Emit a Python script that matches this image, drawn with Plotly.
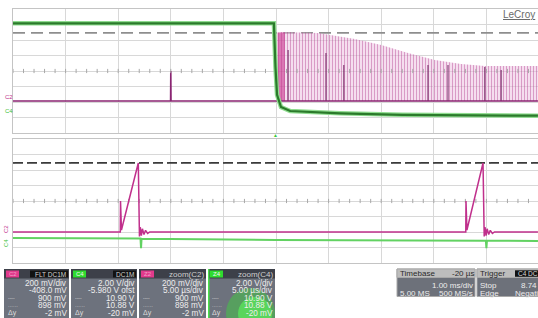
import plotly.graph_objects as go

W, H = 538, 318

# ---------------- data ----------------
# Top panel: 1 ms/div, time in ms
c2_top_t = [-5.0, -2.004, -2.0, -1.996, 4.98]          # C2 baseline with single glitch
c2_top_mv = [20, 20, 408, 20, 20]
burst_t = [0.03, 0.095, 0.80, 1.12, 1.50, 2.00, 2.51, 3.02, 3.52, 3.97, 4.98]   # envelope of the pulse burst
burst_mv = [900, 911, 898, 860, 821, 743, 640, 550, 498, 473, 473]
burst_base_mv = [20, 20]
dense_t = [0.03, 0.17]
dense_mv = [905, 905]
tall_t = [0.23, 0.95, 1.29, 2.89, 3.27, 3.97, 4.28]     # darker individual pulses
tall_mv = [679, 640, 485, 485, 485, 460, 421]
c4_top_t = [-5.0, -0.04, -0.01, 0.02, 0.095, 0.27, 1.22, 2.4, 4.98]
c4_top_v = [12.13, 12.13, 6.5, 2.9, 1.33, 0.82, 0.52, 0.32, 0.21]

# Bottom panel: zoom 5 us/div, time in us
c2_bot_t = [-25.0, -14.80, -14.78, -14.69, -13.09, -13.04, -12.98, -12.90, -12.80, -12.70,
            -12.55, -12.40, -12.20, -12.00,
            18.04, 18.06, 18.15, 19.68, 19.73, 19.79, 19.87, 19.97, 20.07, 20.22, 20.37, 20.57, 20.77, 24.9]
c2_bot_mv = [8, 8, 408, 34, 898, 8, -50, 70, -40, 50, -25, 30, -10, 8,
             8, 408, 34, 898, 8, -50, 70, -40, 50, -25, 30, -10, 8, 8]
c4_bot_t = [-25.0, -13.0, -12.88, -12.83, -12.78, 0.0, 19.95, 20.0, 20.05, 24.9]
c4_bot_v = [1.22, 1.15, 1.15, -0.1, 1.12, 0.95, 0.86, -0.1, 0.86, 0.82]

cursor_mv = [900, 898]
c2_scale, c2_offset = 200, -408.0      # mV/div, mV
c4_scale, c4_offset = 2.0, -5.98       # V/div, V

top_range_ms = [-5.0, 4.981]
bot_range_us = [-25.0, 24.905]

# info panel texts
ch_boxes = [
    dict(x0=4, x1=69, badge="C2", bcol="#e23a8c", tag="FLT DC1M", tagbox=True,
         rows=["200 mV/div", "-408.0 mV", "900 mV", "898 mV", "-2 mV"]),
    dict(x0=71, x1=137, badge="C4", bcol="#2fdc2f", tag="DC1M", tagbox=True,
         rows=["2.00 V/div", "-5.980 V ofst", "10.90 V", "10.88 V", "-20 mV"]),
    dict(x0=139, x1=206, badge="Z2", bcol="#e23a8c", tag="zoom(C2)", tagbox=False,
         rows=["200 mV/div", "5.00 µs/div", "900 mV", "898 mV", "-2 mV"]),
    dict(x0=208, x1=275, badge="Z4", bcol="#2fdc2f", tag="zoom(C4)", tagbox=False,
         rows=["2.00 V/div", "5.00 µs/div", "10.90 V", "10.88 V", "-20 mV"]),
]

# ---------------- figure ----------------
fig = go.Figure()
FONT = "Liberation Sans"
GRID = "#d8d8d8"


def c2_range():
    c = -c2_offset
    return [c - 4 * c2_scale, c + 4 * c2_scale]


def c4_range():
    c = -c4_offset
    return [c - 4 * c4_scale, c + 4 * c4_scale]


def spikes(ts, vs, base):
    xs, ys = [], []
    for t, v in zip(ts, vs):
        xs += [t, t, None]
        ys += [base, v, None]
    return xs, ys


# ---- top panel ----
fig.add_trace(go.Scatter(x=top_range_ms, y=[cursor_mv[0]] * 2, mode="lines", xaxis="x", yaxis="y",
                         line=dict(color="#8e8e8e", width=1.6, dash="12px,6px"), hoverinfo="skip"))
fig.add_trace(go.Scatter(x=[burst_t[0], burst_t[-1]], y=burst_base_mv, mode="lines", xaxis="x", yaxis="y",
                         line=dict(width=0), hoverinfo="skip"))
fig.add_trace(go.Scatter(x=burst_t, y=burst_mv, mode="lines", xaxis="x", yaxis="y", fill="tonexty",
                         fillcolor="rgba(225,160,205,0.55)",
                         fillpattern=dict(shape="|", size=3, solidity=0.36,
                                          fgcolor="rgba(175,50,135,0.8)", bgcolor="rgba(238,195,225,0.5)"),
                         line=dict(width=0), hoverinfo="skip"))
fig.add_trace(go.Scatter(x=dense_t, y=[burst_base_mv[0]] * 2, mode="lines", xaxis="x", yaxis="y",
                         line=dict(width=0), hoverinfo="skip"))
fig.add_trace(go.Scatter(x=dense_t, y=dense_mv, mode="lines", xaxis="x", yaxis="y", fill="tonexty",
                         fillcolor="rgba(200,50,140,0.6)", line=dict(width=0), hoverinfo="skip"))
sx, sy = spikes(tall_t, tall_mv, burst_base_mv[0])
fig.add_trace(go.Scatter(x=sx, y=sy, mode="lines", xaxis="x", yaxis="y",
                         line=dict(color="#6e1f5e", width=1), hoverinfo="skip"))
fig.add_trace(go.Scatter(x=c2_top_t, y=c2_top_mv, mode="lines", xaxis="x", yaxis="y",
                         line=dict(color="#8a2572", width=1.6), hoverinfo="skip"))
fig.add_trace(go.Scatter(x=c4_top_t, y=c4_top_v, mode="lines", xaxis="x", yaxis="y3",
                         line=dict(color="#8fdc8f", width=4.5), hoverinfo="skip"))
fig.add_trace(go.Scatter(x=c4_top_t, y=c4_top_v, mode="lines", xaxis="x", yaxis="y3",
                         line=dict(color="#2b7a2b", width=2.2), hoverinfo="skip"))

# centre-line minor ticks (graticule decoration)
ntk = int(round((top_range_ms[1] - top_range_ms[0]) / 0.2)) + 1
fig.add_trace(go.Scatter(x=[top_range_ms[0] + 0.2 * i for i in range(ntk)], y=[-c2_offset] * ntk,
                         mode="markers", xaxis="x", yaxis="y",
                         marker=dict(symbol="line-ns", size=3, line=dict(color="#a8a8a8", width=1)),
                         hoverinfo="skip"))

# ---- bottom panel ----
fig.add_trace(go.Scatter(x=bot_range_us, y=[cursor_mv[0]] * 2, mode="lines", xaxis="x2", yaxis="y2",
                         line=dict(color="#3a3a3a", width=1.6, dash="10px,4px"), hoverinfo="skip"))
fig.add_trace(go.Scatter(x=bot_range_us, y=[cursor_mv[1]] * 2, mode="lines", xaxis="x2", yaxis="y2",
                         line=dict(color="#555555", width=1, dash="2px,12px"), hoverinfo="skip"))
ntk2 = int(round((bot_range_us[1] - bot_range_us[0]) / 1.0)) + 1
fig.add_trace(go.Scatter(x=[bot_range_us[0] + 1.0 * i for i in range(ntk2)], y=[-c2_offset] * ntk2,
                         mode="markers", xaxis="x2", yaxis="y2",
                         marker=dict(symbol="line-ns", size=3, line=dict(color="#a8a8a8", width=1)),
                         hoverinfo="skip"))
fig.add_trace(go.Scatter(x=c4_bot_t, y=c4_bot_v, mode="lines", xaxis="x2", yaxis="y4",
                         line=dict(color="#62d262", width=2), hoverinfo="skip"))
fig.add_trace(go.Scatter(x=c2_bot_t, y=c2_bot_mv, mode="lines", xaxis="x2", yaxis="y2",
                         line=dict(color="#c0308c", width=1.5), hoverinfo="skip"))

dom_x = [13 / W, 1.0]
ax_common = dict(showgrid=True, gridcolor=GRID, gridwidth=1, zeroline=False, showticklabels=False,
                 ticks="", showline=True, linecolor="#c4c4c4", linewidth=1, fixedrange=True)

fig.update_layout(
    width=W, height=H, margin=dict(l=0, r=0, t=0, b=0),
    paper_bgcolor="white", plot_bgcolor="white", showlegend=False,
    xaxis=dict(domain=dom_x, range=top_range_ms, tick0=-5, dtick=1, anchor="y", mirror=True, **ax_common),
    yaxis=dict(domain=[1 - 133 / H, 1 - 9 / H], range=c2_range(), tick0=-c2_offset, dtick=c2_scale,
               anchor="x", **ax_common),
    yaxis3=dict(overlaying="y", range=c4_range(), visible=False, fixedrange=True),
    xaxis2=dict(domain=dom_x, range=bot_range_us, tick0=-25, dtick=5, anchor="y2", mirror=True, **ax_common),
    yaxis2=dict(domain=[1 - 263 / H, 1 - 139 / H], range=c2_range(), tick0=-c2_offset, dtick=c2_scale,
                anchor="x2", **ax_common),
    yaxis4=dict(overlaying="y2", range=c4_range(), visible=False, fixedrange=True),
)

shapes, anns = [], []


def rect(x0, y0, x1, y1, color, lw=0, lc=None):
    shapes.append(dict(type="rect", xref="paper", yref="paper", x0=x0 / W, x1=x1 / W,
                       y0=1 - y1 / H, y1=1 - y0 / H, fillcolor=color,
                       line=dict(width=lw, color=lc or color), layer="above"))


def ell(x0, y0, x1, y1, color):
    shapes.append(dict(type="circle", xref="paper", yref="paper", x0=x0 / W, x1=x1 / W,
                       y0=1 - y1 / H, y1=1 - y0 / H, fillcolor=color, line=dict(width=0), layer="above"))


def txt(x, y, s, size=8, color="#ececec", anchor="right", angle=0):
    anns.append(dict(x=x / W, y=1 - y / H, xref="paper", yref="paper", text=s, showarrow=False,
                     xanchor=anchor, yanchor="middle", textangle=angle, borderpad=0,
                     font=dict(size=size, color=color, family=FONT)))


# channel labels and marks
txt(4, 97, "C2", 6, "#c0308c", "left")
txt(4, 111, "C4", 6, "#3cbf3c", "left")
txt(6, 229, "C2", 6, "#c0308c", "center", -90)
txt(6, 243, "C4", 6, "#3cbf3c", "center", -90)
txt(275, 135, "▲", 5, "#3cc83c", "center")
txt(536, 15, "<u>LeCroy</u>", 10, "#6a6a6a", "right")

# channel descriptor boxes
rows_y = [283, 290.5, 298, 305.5, 313]
for b in ch_boxes:
    x0, x1 = b["x0"], b["x1"]
    rect(x0, 269, x1, 320, "#6d727d")
    rect(x0, 269, x1, 278.5, "#3d4049")
    if b is ch_boxes[3]:
        ell(226, 288, 275, 338, "rgba(60,215,60,0.45)")
        ell(238, 297, 272, 330, "rgba(90,250,90,0.6)")
        rect(x0, 269, x0 + 1.5, 320, "#49e049")
    rect(x0 + 2, 270.5, x0 + 15, 277.5, b["bcol"])
    txt(x0 + 8.5, 274, b["badge"], 6, "#f4f4f4" if b["bcol"] == "#2fdc2f" else "#f0a0c8", "center")
    if b["tagbox"]:
        w = 38 if len(b["tag"]) > 5 else 23
        rect(x1 - 1 - w, 270.5, x1 - 1, 277.5, "#121212")
        txt(x1 - 2, 274, b["tag"], 6.5, "#d0d0d0", "right")
    else:
        txt(x1 - 1, 274, b["tag"], 8, "#cfcfcf", "right")
    for ry, s in zip(rows_y, b["rows"]):
        txt(x1 - 1, ry, s, 8.2, "#ededed", "right")
    txt(x0 + 3, rows_y[2], "----", 5, "#dcdcdc", "left")
    txt(x0 + 3, rows_y[3], "······", 5, "#dcdcdc", "left")
    txt(x0 + 3, rows_y[4], "Δy", 7, "#dcdcdc", "left")

# timebase / trigger boxes
rect(397, 269, 475, 296.5, "#6d717a", 1, "#a8a8a8")
rect(397, 269, 475, 277.5, "#bdbdbd", 1, "#a8a8a8")
txt(399, 273.5, "Timebase", 8, "#2a2a2a", "left")
txt(475, 273.5, "-20 µs", 8, "#2a2a2a", "right")
txt(474, 285, "1.00 ms/div", 8, "#ededed", "right")
txt(399, 293, "5.00 MS", 8, "#ededed", "left")
txt(474, 293, "500 MS/s", 8, "#ededed", "right")

rect(477, 269, 545, 296.5, "#6d717a", 1, "#a8a8a8")
rect(477, 269, 545, 277.5, "#bdbdbd", 1, "#a8a8a8")
txt(479, 273.5, "Trigger", 8, "#2a2a2a", "left")
rect(515, 270.3, 545, 276.8, "#111111")
txt(517, 273.5, "C4 DC", 6.5, "#d8d8d8", "left")
txt(479, 285, "Stop", 8, "#ededed", "left")
txt(546, 285, "8.74 V", 8, "#ededed", "right")
txt(479, 293, "Edge", 8, "#ededed", "left")
txt(548, 293, "Negative", 8, "#ededed", "right")

fig.update_layout(shapes=shapes, annotations=anns)
fig.write_html("out.html", config={"displayModeBar": False, "staticPlot": True},
               post_script="document.body.style.margin='0';document.body.style.overflow='hidden';")
